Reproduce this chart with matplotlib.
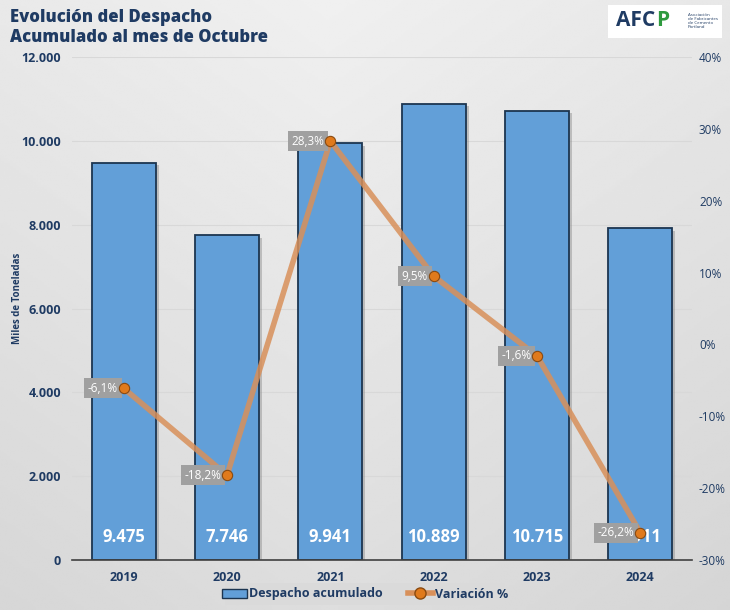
import matplotlib
matplotlib.use("Agg")
import matplotlib.pyplot as plt
import numpy as np
from matplotlib.patches import Rectangle
from matplotlib.lines import Line2D

years = ["2019", "2020", "2021", "2022", "2023", "2024"]
despacho = [9475, 7746, 9941, 10889, 10715, 7911]
despacho_labels = ["9.475", "7.746", "9.941", "10.889", "10.715", "7.911"]
variacion = [-6.1, -18.2, 28.3, 9.5, -1.6, -26.2]
variacion_labels = ["-6,1%", "-18,2%", "28,3%", "9,5%", "-1,6%", "-26,2%"]
left_ticks = [0, 2000, 4000, 6000, 8000, 10000, 12000]
left_ticklabels = ["0", "2.000", "4.000", "6.000", "8.000", "10.000", "12.000"]
right_ticks = [-30, -20, -10, 0, 10, 20, 30, 40]
right_ticklabels = ["-30%", "-20%", "-10%", "0%", "10%", "20%", "30%", "40%"]

plt.rcParams['font.family'] = ['Open Sans', 'DejaVu Sans']
navy = "#1f3b63"

fig = plt.figure(figsize=(7.3, 6.1), dpi=100)
# background gradient
bg = fig.add_axes([0, 0, 1, 1], zorder=-10)
grad = np.linspace(0, 1, 256)
X, Y = np.meshgrid(grad, grad)
img = 0.94 - 0.12 * ((1 - Y) * 0.6 + np.abs(X - 0.45) * 0.5)
bg.imshow(img, cmap="gray", vmin=0, vmax=1, aspect="auto", extent=[0, 1, 0, 1], origin="lower")
bg.axis("off")

ax = fig.add_axes([72/730, 50/610, 620/730, 503/610])
ax.patch.set_alpha(0)
x = np.arange(len(years))
ax.set_xlim(-0.5, len(years) - 0.5)
ax.set_ylim(0, 12000)
for t in left_ticks[1:]:
    ax.axhline(t, color="#d8d8d8", lw=0.8, zorder=0)
# shadows
ax.bar(x + 0.03, np.array(despacho) - 60, width=0.62, bottom=0, color="#8a8a8a", alpha=0.45, zorder=1)
bars = ax.bar(x, despacho, width=0.62, color="#629fd8", edgecolor="#1c3550", linewidth=1.3, zorder=2)
for xi, lab in zip(x, despacho_labels):
    ax.text(xi, 330, lab, ha="center", va="bottom", color="white", fontsize=12, fontweight="bold", zorder=5)

for s in ["top", "right", "left"]:
    ax.spines[s].set_visible(False)
ax.spines["bottom"].set_color("#404040")
ax.spines["bottom"].set_linewidth(1.2)
ax.set_xticks(x)
ax.set_xticklabels(years, fontsize=9, fontweight="bold", color=navy)
ax.tick_params(axis="x", length=0, pad=8)
ax.set_yticks(left_ticks)
ax.set_yticklabels(left_ticklabels, fontsize=9, fontweight="bold", color=navy)
ax.tick_params(axis="y", length=0, pad=8)
fig.text(18/730, 1 - 298/610, "Miles de Toneladas", fontsize=7, color=navy, fontweight="bold",
         rotation=90, ha="center", va="center")

ax2 = ax.twinx()
ax2.set_ylim(-30, 40)
ax2.set_yticks(right_ticks)
ax2.set_yticklabels(right_ticklabels, fontsize=8.5, color=navy)
ax2.tick_params(axis="y", length=0, pad=5)
for s in ax2.spines.values():
    s.set_visible(False)
ax2.plot(x, variacion, color="#d8905a", lw=4, alpha=0.85, zorder=3, solid_capstyle="round")
for xi, v, lab in zip(x, variacion, variacion_labels):
    ax2.annotate(lab, (xi, v), xytext=(-4, 0), textcoords="offset points", ha="right", va="center",
                 color="white", fontsize=8.5,
                 bbox=dict(boxstyle="square,pad=0.3", fc="#a0a0a0", ec="none"), zorder=3.5)
ax2.scatter(x, variacion, s=55, color="#e07a1c", edgecolor="#8a4a10", linewidth=0.8, zorder=4)

# titles
fig.text(10/730, 1 - 18/610, "Evolución del Despacho", fontsize=12, fontweight="heavy", color=navy, va="center")
fig.text(10/730, 1 - 38/610, "Acumulado al mes de Octubre", fontsize=12, fontweight="heavy", color=navy, va="center")

# logo
fig.patches.append(Rectangle((608/730, 1 - 38/610), 114/730, 33/610, transform=fig.transFigure,
                             fc="white", ec="none", zorder=5))
t1 = fig.text(616/730, 1 - 21/610, "AFC", fontsize=15, fontweight="bold", color="#1f3b63", va="center", zorder=6)
fig.canvas.draw()
bb = t1.get_window_extent()
fig.text((bb.x1 + 1) / fig.bbox.width, 1 - 21/610, "P", fontsize=15, fontweight="bold", color="#2e9a3e",
         va="center", zorder=6)
fig.text(688/730, 1 - 21/610, "Asociación\nde Fabricantes\nde Cemento\nPortland", fontsize=3.2,
         color="#1f3b63", va="center", zorder=6, linespacing=1.1)

# legend
fig.patches.append(Rectangle((225/730, 5/610), 280/730, 22/610, transform=fig.transFigure,
                             fc="#dadada", ec="none", zorder=5))
handles = [Rectangle((0, 0), 1, 1, fc="#629fd8", ec="#1c3550"),
           Line2D([0], [0], color="#d8905a", lw=4, marker="o", markersize=8,
                  markerfacecolor="#e07a1c", markeredgecolor="#8a4a10")]
leg = fig.legend(handles, ["Despacho acumulado", "Variación %"], loc="center", bbox_to_anchor=(365/730, 16/610),
                 ncol=2, frameon=False, fontsize=9, handlelength=2.0, handletextpad=0.2, columnspacing=2.0)
for t in leg.get_texts():
    t.set_color(navy)
    t.set_fontweight("bold")
leg.set_zorder(7)

fig.savefig("out.png", dpi=100)
